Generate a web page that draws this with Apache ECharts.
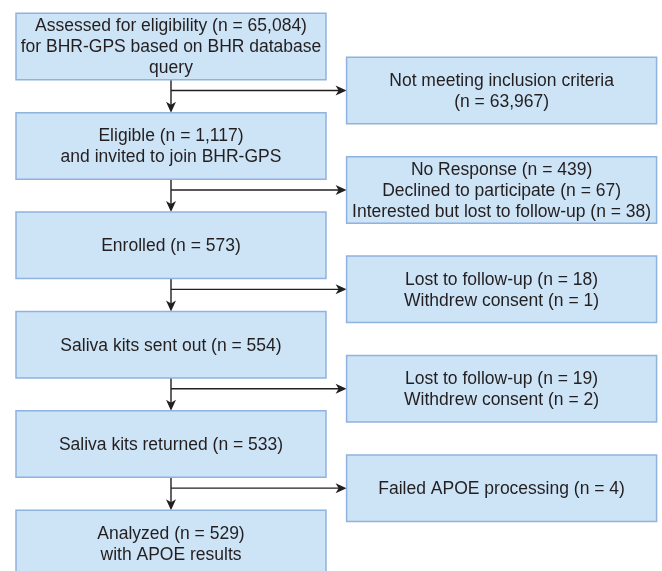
<!DOCTYPE html>
<html>
<head>
<meta charset="utf-8">
<script src="https://cdn.jsdelivr.net/npm/echarts@6/dist/echarts.min.js"></script>
<style>
html,body{margin:0;padding:0;background:#fff;}
#chart{width:662px;height:571px;}
</style>
</head>
<body>
<div id="chart"></div>
<script>
// ---- Data ----
const mainSteps = [
  'Assessed for eligibility (n = 65,084)\nfor BHR-GPS based on BHR database\nquery',
  'Eligible (n = 1,117)\nand invited to join BHR-GPS',
  'Enrolled (n = 573)',
  'Saliva kits sent out (n = 554)',
  'Saliva kits returned (n = 533)',
  'Analyzed (n = 529)\nwith APOE results'
];
const exclusions = [
  'Not meeting inclusion criteria\n(n = 63,967)',
  'No Response (n = 439)\nDeclined to participate (n = 67)\nInterested but lost to follow-up (n = 38)',
  'Lost to follow-up (n = 18)\nWithdrew consent (n = 1)',
  'Lost to follow-up (n = 19)\nWithdrew consent (n = 2)',
  'Failed APOE processing (n = 4)'
];

// ---- Layout / style ----
const EX_OFFSET = 0.443;   // exclusion boxes sit between main rows
const BOX_W = 310, BOX_H = 66.5;
const FILL = '#cde3f6', STROKE = '#8fb2de', INK = '#231f20';
const FONT = '"Liberation Sans", Arial, Helvetica, sans-serif';

const boxData = [];
mainSteps.forEach((t, i) => boxData.push({ value: [0, i], label: t }));
exclusions.forEach((t, i) => boxData.push({ value: [1, i + EX_OFFSET], label: t }));

const linkData = exclusions.map((_, i) => [0, i, 1, i + EX_OFFSET]);

function arrowHead(x, y, dir) {
  // dir: 'down' or 'right', tip at (x,y)
  if (dir === 'down') return [[x, y], [x - 5, y - 11], [x, y - 8], [x + 5, y - 11]];
  return [[x, y], [x - 11, y - 5], [x - 8, y], [x - 11, y + 5]];
}

const chart = echarts.init(document.getElementById('chart'), null, { renderer: 'canvas' });
const rowPitch = 99.4, row0 = 46.5;
const colPitch = 330.6, col0 = 171;
chart.setOption({
  backgroundColor: '#ffffff',
  animation: false,
  grid: { left: 0, right: 0, top: 0, bottom: 0 },
  xAxis: { type: 'value', min: -col0 / colPitch, max: (662 - col0) / colPitch, show: false },
  yAxis: { type: 'value', inverse: true, min: -row0 / rowPitch, max: (571 - row0) / rowPitch, show: false },
  series: [
    {
      type: 'custom',
      coordinateSystem: 'cartesian2d',
      data: linkData,
      encode: { x: [0, 2], y: [1, 3] },
      z: 1,
      renderItem: function (params, api) {
        const a = api.coord([api.value(0), api.value(1)]);
        const b = api.coord([api.value(0), api.value(1) + 1]);
        const e = api.coord([api.value(2), api.value(3)]);
        const x = a[0];
        const yTop = a[1] + BOX_H / 2;
        const yEnd = b[1] - BOX_H / 2;
        const xEnd = e[0] - BOX_W / 2;
        const ls = { stroke: INK, lineWidth: 1.4 };
        return {
          type: 'group',
          children: [
            { type: 'line', shape: { x1: x, y1: yTop, x2: x, y2: yEnd - 6 }, style: ls },
            { type: 'polygon', shape: { points: arrowHead(x, yEnd, 'down') }, style: { fill: INK } },
            { type: 'line', shape: { x1: x, y1: e[1], x2: xEnd - 6, y2: e[1] }, style: ls },
            { type: 'polygon', shape: { points: arrowHead(xEnd, e[1], 'right') }, style: { fill: INK } }
          ]
        };
      }
    },
    {
      type: 'custom',
      coordinateSystem: 'cartesian2d',
      data: boxData.map(d => d.value),
      z: 2,
      renderItem: function (params, api) {
        const c = api.coord([api.value(0), api.value(1)]);
        const text = boxData[params.dataIndex].label;
        return {
          type: 'group',
          children: [
            {
              type: 'rect',
              shape: { x: c[0] - BOX_W / 2, y: c[1] - BOX_H / 2, width: BOX_W, height: BOX_H },
              style: { fill: FILL, stroke: STROKE, lineWidth: 1.5 }
            },
            {
              type: 'text',
              style: {
                text: text, x: c[0], y: c[1] + 1,
                align: 'center', verticalAlign: 'middle',
                fontSize: 17.5, fontFamily: FONT, lineHeight: 21, fill: INK
              }
            }
          ]
        };
      }
    }
  ]
});
</script>
</body>
</html>
